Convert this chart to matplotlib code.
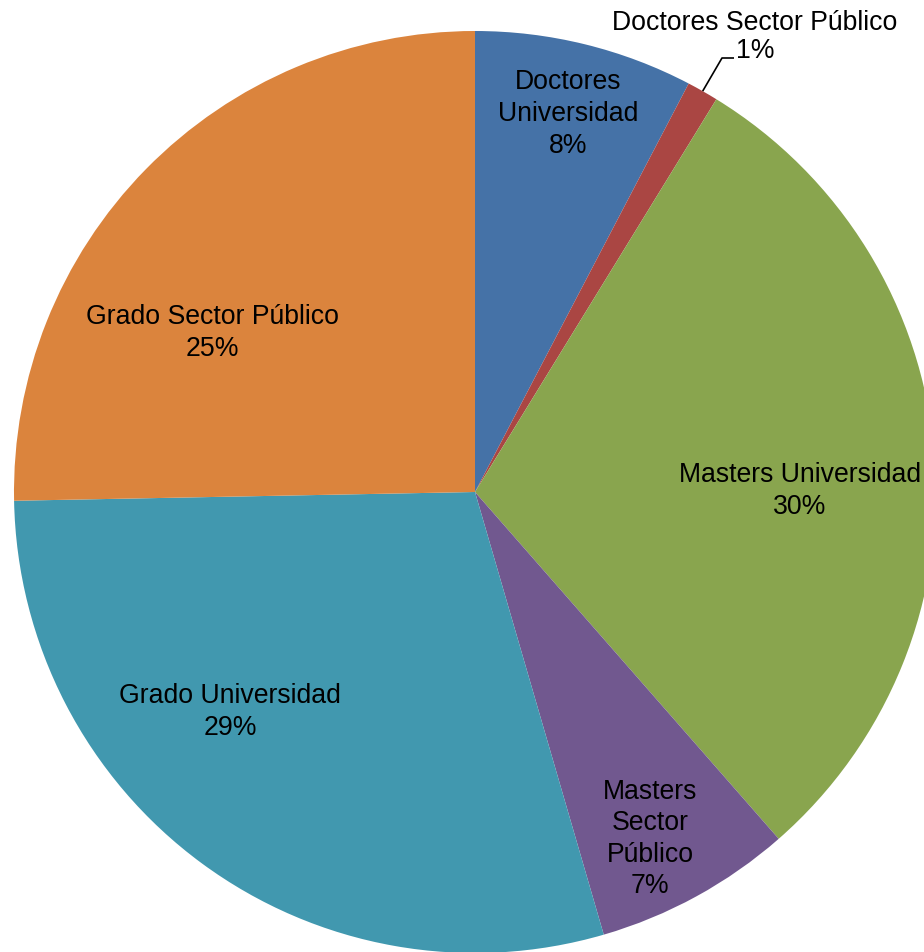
import numpy as np
import matplotlib
matplotlib.use("Agg")
import matplotlib.pyplot as plt

# Data (clockwise from 12 o'clock)
categories = ["Doctores Universidad", "Doctores Sector Público", "Masters Universidad",
              "Masters Sector Público", "Grado Universidad", "Grado Sector Público"]
values = [7.67, 1.1, 29.78, 6.94, 29.2, 25.3]
label_texts = ["Doctores\nUniversidad", "Doctores Sector Público", "Masters Universidad",
               "Masters\nSector\nPúblico", "Grado Universidad", "Grado Sector Público"]
colors = ["#4572A7", "#AA4643", "#89A54E", "#71588F", "#4198AF", "#DB843D"]

W, H = 924, 952
fig = plt.figure(figsize=(W / 100, H / 100), dpi=100)
ax = fig.add_axes([0, 0, 1, 1])
ax.set_xlim(0, W)
ax.set_ylim(0, H)
ax.set_aspect("equal")
ax.axis("off")

cx, cy, R = 475, H - 492, 461
wedges, _ = ax.pie(values, colors=colors, startangle=90, counterclock=False,
                   center=(cx, cy), radius=R, wedgeprops=dict(linewidth=0))
ax.set_xlim(0, W)
ax.set_ylim(0, H)

plt.rcParams["font.family"] = ["Liberation Sans", "DejaVu Sans"]
fs = 19.2
total = sum(values)
pcts = [f"{round(v / total * 100):d}%" for v in values]

# label block centres (pixel coords from top-left) and line spacing
label_pos = [(568, 114), (755, 37), (800, 491), (650, 839), (230, 712), (212, 333)]
label_ls = [1.28, 1.12, 1.28, 1.28, 1.28, 1.28]
for i, (txt, p) in enumerate(zip(label_texts, pcts)):
    x, y = label_pos[i]
    ax.text(x, H - y, f"{txt}\n{p}", ha="center", va="center", fontsize=fs,
            color="black", linespacing=label_ls[i],
            family=["Liberation Sans", "DejaVu Sans"])

# leader line for the small slice
w = wedges[1]
mid = np.deg2rad((w.theta1 + w.theta2) / 2)
x0, y0 = cx + R * np.cos(mid), cy + R * np.sin(mid)
ax.plot([x0, 722, 734], [y0, H - 58, H - 58], color="black", linewidth=1.2,
        solid_capstyle="butt")

fig.savefig("out.png", dpi=100, facecolor="white")
